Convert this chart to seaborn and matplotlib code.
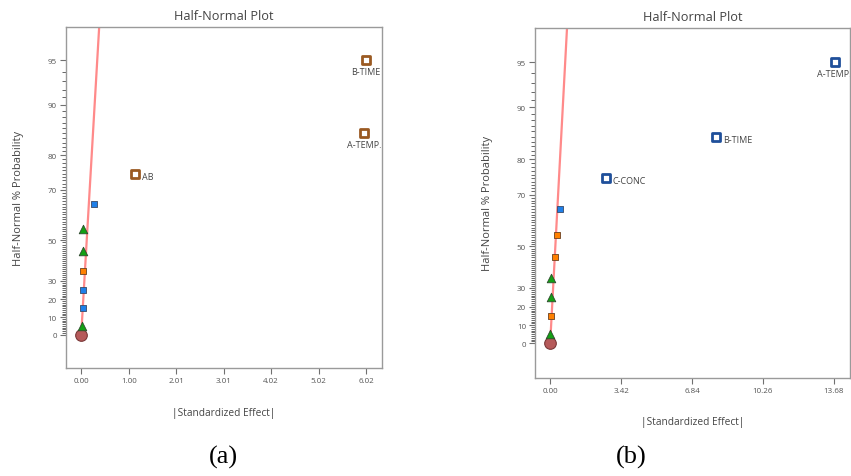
"""
Half-normal plots of standardized effects for two designs, (a) and (b).
"""

import math
from statistics import NormalDist

import numpy as np
import pandas as pd
import seaborn as sns
import matplotlib
matplotlib.use('Agg')
import matplotlib.pyplot as plt
from matplotlib.ticker import FixedLocator, NullFormatter

# ---- data: panel (a)
a_effect = [0.0, 0.01, 0.035, 0.035, 0.035, 0.04, 0.04, 0.275, 1.135, 5.98, 6.02]
a_prob = [0, 5, 15, 25, 35, 45, 55, 65, 75, 85, 95]
a_kind = ['error', 'green', 'blue', 'blue', 'orange', 'green', 'green', 'blue',
          'chosen', 'chosen', 'chosen']
a_name = ['', '', '', '', '', '', '', '', 'AB', 'A-TEMP.', 'B-TIME']
a_line_effect = [0.009, 0.40]
a_line_prob = [5, 98]
a_xticks = [0.0, 1.004, 2.008, 3.012, 4.016, 5.02, 6.024]

# ---- data: panel (b)
b_effect = [0.0, 0.0, 0.034, 0.034, 0.034, 0.225, 0.32, 0.465, 2.67, 7.99, 13.71]
b_prob = [0, 5, 15, 25, 35, 45, 55, 65, 75, 85, 95]
b_kind = ['error', 'green', 'orange', 'green', 'green', 'orange', 'orange', 'blue',
          'chosen', 'chosen', 'chosen']
b_name = ['', '', '', '', '', '', '', '', 'C-CONC', 'B-TIME', 'A-TEMP.']
b_line_effect = [0.023, 0.86]
b_line_prob = [5, 98]
b_xticks = [0.0, 3.42, 6.84, 10.26, 13.68]

y_major = [0, 10, 20, 30, 50, 70, 80, 90, 95]
y_minor = [v for v in range(1, 95) if v not in y_major]

sns.set_style('white')
plt.rcParams['font.family'] = ['Open Sans', 'DejaVu Sans']
plt.rcParams['ytick.minor.visible'] = True

nd = NormalDist()


def _fwd(v):
    if not math.isfinite(v):
        return v
    v = min(max(v, -99.9999), 99.9999)
    return nd.inv_cdf(0.5 + v / 200.0)


def _inv(v):
    if not math.isfinite(v):
        return v
    return 100.0 * math.erf(v / math.sqrt(2.0))


to_q = np.vectorize(_fwd, otypes=[float])
from_q = np.vectorize(_inv, otypes=[float])

styles = {
    'error': dict(marker='o', s=70, color='#b65a5a', edgecolor='#7a3838', linewidth=0.8),
    'green': dict(marker='^', s=38, color='#14a014', edgecolor='#2f4a2f', linewidth=0.6),
    'blue': dict(marker='s', s=24, color='#1f7fe8', edgecolor='#3a4a66', linewidth=0.6),
    'orange': dict(marker='s', s=24, color='#ff8000', edgecolor='#6a4020', linewidth=0.6),
}
chosen_edge = {'a': '#9a5a22', 'b': '#1f4f9a'}
label_place = {
    'a': {'AB': 'right', 'A-TEMP.': 'below', 'B-TIME': 'below'},
    'b': {'C-CONC': 'right', 'B-TIME': 'right', 'A-TEMP.': 'below'},
}

fig = plt.figure(figsize=(8.51, 4.77), dpi=100)
ax_a = fig.add_axes([0.0772, 0.2258, 0.3717, 0.7149])
ax_b = fig.add_axes([0.6287, 0.2061, 0.3700, 0.7331])

panels = [
    ('a', ax_a, a_effect, a_prob, a_kind, a_name, a_line_effect, a_line_prob,
     a_xticks, (-0.33, 6.36)),
    ('b', ax_b, b_effect, b_prob, b_kind, b_name, b_line_effect, b_line_prob,
     b_xticks, (-0.73, 14.45)),
]

for key, ax, eff, prob, kind, name, l_eff, l_prob, xt, xl in panels:
    ax.set_yscale('function', functions=(to_q, from_q))
    df = pd.DataFrame({'effect': eff, 'prob': prob, 'kind': kind, 'name': name})

    line = pd.DataFrame({'effect': l_eff, 'prob': l_prob})
    sns.lineplot(data=line, x='effect', y='prob', ax=ax, color='#ff8a8a',
                 linewidth=1.6, sort=False, zorder=1)

    for k, st in styles.items():
        sub = df[df['kind'] == k]
        if len(sub):
            sns.scatterplot(data=sub, x='effect', y='prob', ax=ax, zorder=3, **st)

    sel = df[df['kind'] == 'chosen']
    sns.scatterplot(data=sel, x='effect', y='prob', ax=ax, marker='s', s=36,
                    color='white', edgecolor=chosen_edge[key], linewidth=2.0, zorder=4)
    for _, r in sel.iterrows():
        if label_place[key][r['name']] == 'right':
            ax.annotate(r['name'], (r['effect'], r['prob']), xytext=(5, -2),
                        textcoords='offset points', ha='left', va='center',
                        fontsize=6.5, color='#444444', annotation_clip=False,
                        clip_on=True)
        else:
            ax.annotate(r['name'], (r['effect'], r['prob']), xytext=(0, -8),
                        textcoords='offset points', ha='center', va='center',
                        fontsize=6.5, color='#444444', annotation_clip=False,
                        clip_on=True)

    ax.set_xlim(*xl)
    ax.set_ylim(-19, 97.2)
    ax.set_xticks(xt)
    ax.set_xticklabels([f'{v:.2f}' for v in xt])
    ax.yaxis.set_major_locator(FixedLocator(y_major))
    ax.set_yticklabels([str(v) for v in y_major])
    ax.yaxis.set_minor_locator(FixedLocator(y_minor))
    ax.yaxis.set_minor_formatter(NullFormatter())
    ax.tick_params(axis='both', which='major', direction='out', length=4.5,
                   width=0.8, color='#707070', labelsize=5.8, labelcolor='#555555',
                   pad=2, bottom=True, left=True)
    ax.tick_params(axis='y', which='minor', direction='out', length=3,
                   width=0.7, color='#666666', left=True)
    for sp in ax.spines.values():
        sp.set_color('#9a9a9a')
        sp.set_linewidth(1.0)

    ax.set_title('Half-Normal Plot', fontsize=9.2, color='#444444', pad=6)
    ax.set_xlabel('|Standardized Effect|', fontsize=7.3, color='#444444', labelpad=16)
    ax.set_ylabel('Half-Normal % Probability', fontsize=8, color='#444444', labelpad=17)

fig.text(0.262, 0.040, '(a)', fontsize=19, family='Liberation Serif',
         ha='center', va='center', color='black')
fig.text(0.742, 0.040, '(b)', fontsize=19, family='Liberation Serif',
         ha='center', va='center', color='black')

fig.savefig('out.png', dpi=100)
